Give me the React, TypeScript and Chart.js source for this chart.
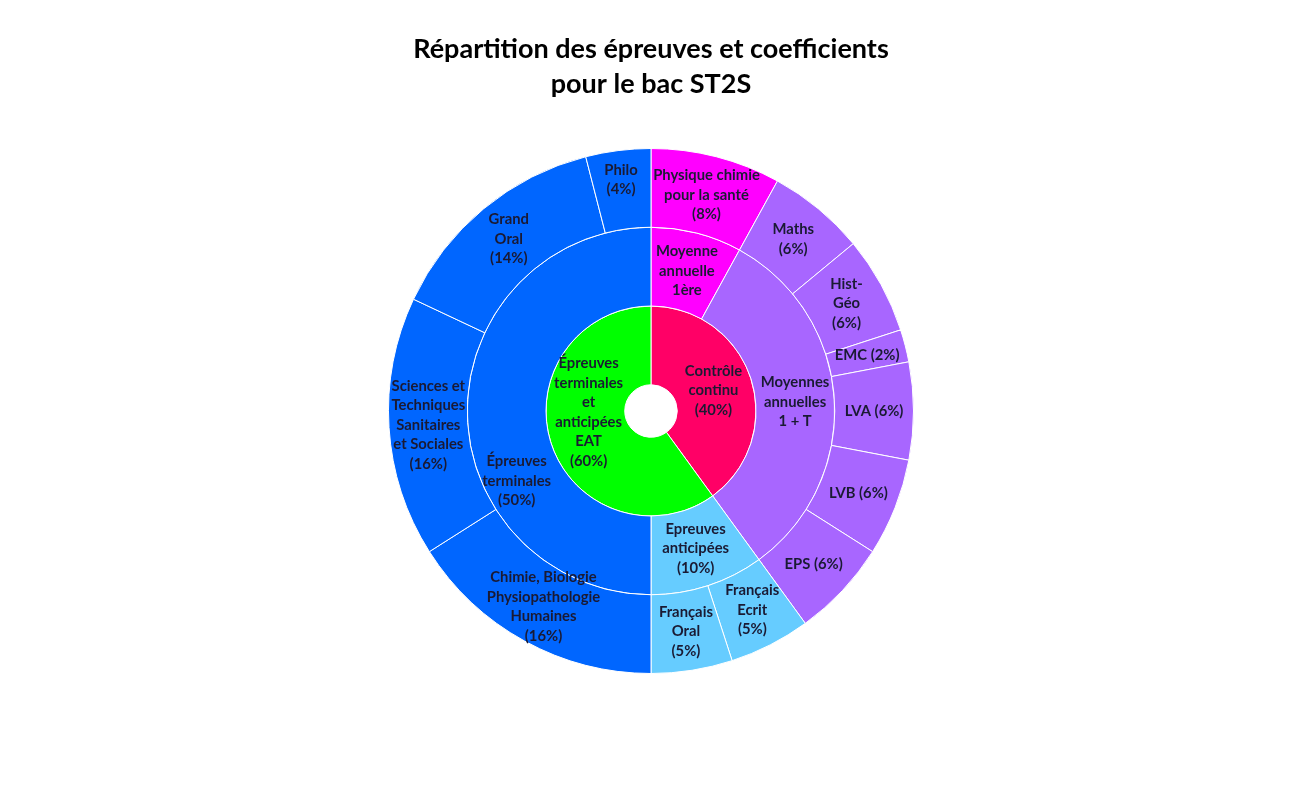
import React, { useEffect, useRef } from "react";
import { Chart, registerables } from "chart.js";

Chart.register(...registerables);

// Inner ring
const innerLabels = ["Contrôle\ncontinu\n(40%)", "Épreuves\nterminales\net\nanticipées\nEAT\n(60%)"];
const innerValues = [40, 60];
const innerColors = ["#FF0066", "#00FF00"];

// Middle ring
const middleLabels = [
  "Moyenne\nannuelle\n1ère",
  "Moyennes\nannuelles\n1 + T",
  "Epreuves\nanticipées\n(10%)",
  "Épreuves\nterminales\n(50%)",
];
const middleValues = [8, 32, 10, 50];
const middleColors = ["#FF00FF", "#A866FF", "#66CCFF", "#0066FF"];

// Outer ring
const outerLabels = [
  "Physique chimie\npour la santé\n(8%)",
  "Maths\n(6%)",
  "Hist-\nGéo\n(6%)",
  "EMC (2%)",
  "LVA (6%)",
  "LVB (6%)",
  "EPS (6%)",
  "Français\nEcrit\n(5%)",
  "Français\nOral\n(5%)",
  "Chimie, Biologie\nPhysiopathologie\nHumaines\n(16%)",
  "Sciences et\nTechniques\nSanitaires\net Sociales\n(16%)",
  "Grand\nOral\n(14%)",
  "Philo\n(4%)",
];
const outerValues = [8, 6, 6, 2, 6, 6, 6, 5, 5, 16, 16, 14, 4];
const outerColors = [
  "#FF00FF",
  "#A866FF", "#A866FF", "#A866FF", "#A866FF", "#A866FF", "#A866FF",
  "#66CCFF", "#66CCFF",
  "#0066FF", "#0066FF", "#0066FF", "#0066FF",
];

const titleLines = ["Répartition des épreuves et coefficients", "pour le bac ST2S"];

// label nudges (text only), keyed by dataset index and element index
const labelNudges: Record<string, [number, number]> = {
  "2-1": [0, -19],
  "1-3": [10, 70],
  "0-12": [-2, -10],
};

const labelFont = 'bold 14.8px "Lato", "Liberation Sans", sans-serif';
const labelLineHeight = 19.5;

const sunburstLabels = {
  id: "sunburstLabels",
  afterDatasetsDraw(chart: any) {
    const ctx = chart.ctx;
    ctx.save();
    ctx.font = labelFont;
    ctx.fillStyle = "#1A1A33";
    ctx.textAlign = "center";
    ctx.textBaseline = "middle";
    chart.data.datasets.forEach((ds: any, di: number) => {
      const meta = chart.getDatasetMeta(di);
      meta.data.forEach((arc: any, i: number) => {
        const { x, y, startAngle, endAngle, innerRadius, outerRadius } = arc.getProps(
          ["x", "y", "startAngle", "endAngle", "innerRadius", "outerRadius"],
          true
        );
        const mid = (startAngle + endAngle) / 2;
        const r = (innerRadius + outerRadius) / 2;
        const nudge = labelNudges[`${di}-${i}`] || [0, 0];
        const cx = x + Math.cos(mid) * r + nudge[0];
        const cy = y + Math.sin(mid) * r + nudge[1];
        const lines = String(ds.labels[i]).split("\n");
        const startY = cy - ((lines.length - 1) * labelLineHeight) / 2;
        lines.forEach((line: string, li: number) => {
          ctx.fillText(line, cx, startY + li * labelLineHeight);
        });
      });
    });
    ctx.restore();
  },
};

export default function App() {
  const canvasRef = useRef<HTMLCanvasElement | null>(null);

  useEffect(() => {
    if (!canvasRef.current) return;
    const chart = new Chart(canvasRef.current, {
      type: "doughnut",
      data: {
        labels: outerLabels,
        datasets: [
          {
            labels: outerLabels,
            data: outerValues,
            backgroundColor: outerColors,
            borderColor: "#FFFFFF",
            borderWidth: 1,
          } as any,
          {
            labels: middleLabels,
            data: middleValues,
            backgroundColor: middleColors,
            borderColor: "#FFFFFF",
            borderWidth: 1,
          } as any,
          {
            labels: innerLabels,
            data: innerValues,
            backgroundColor: innerColors,
            borderColor: "#FFFFFF",
            borderWidth: 1,
          } as any,
        ],
      },
      options: {
        responsive: false,
        animation: false,
        cutout: "10%",
        layout: { padding: { top: 0, bottom: 115, left: 2, right: 0 } },
        plugins: {
          legend: { display: false },
          tooltip: { enabled: false },
          title: {
            display: true,
            text: titleLines,
            color: "#000000",
            font: { family: '"Lato", "Liberation Sans", sans-serif', size: 27, weight: "bold", lineHeight: 1.3 },
            padding: { top: 32, bottom: 45.8 },
          },
        },
      },
      plugins: [sunburstLabels],
    });
    return () => chart.destroy();
  }, []);

  return (
    <div style={{ position: "fixed", left: 0, top: 0, width: 1300, height: 789, background: "#FFFFFF" }}>
      <canvas ref={canvasRef} width={1300} height={789} />
    </div>
  );
}
